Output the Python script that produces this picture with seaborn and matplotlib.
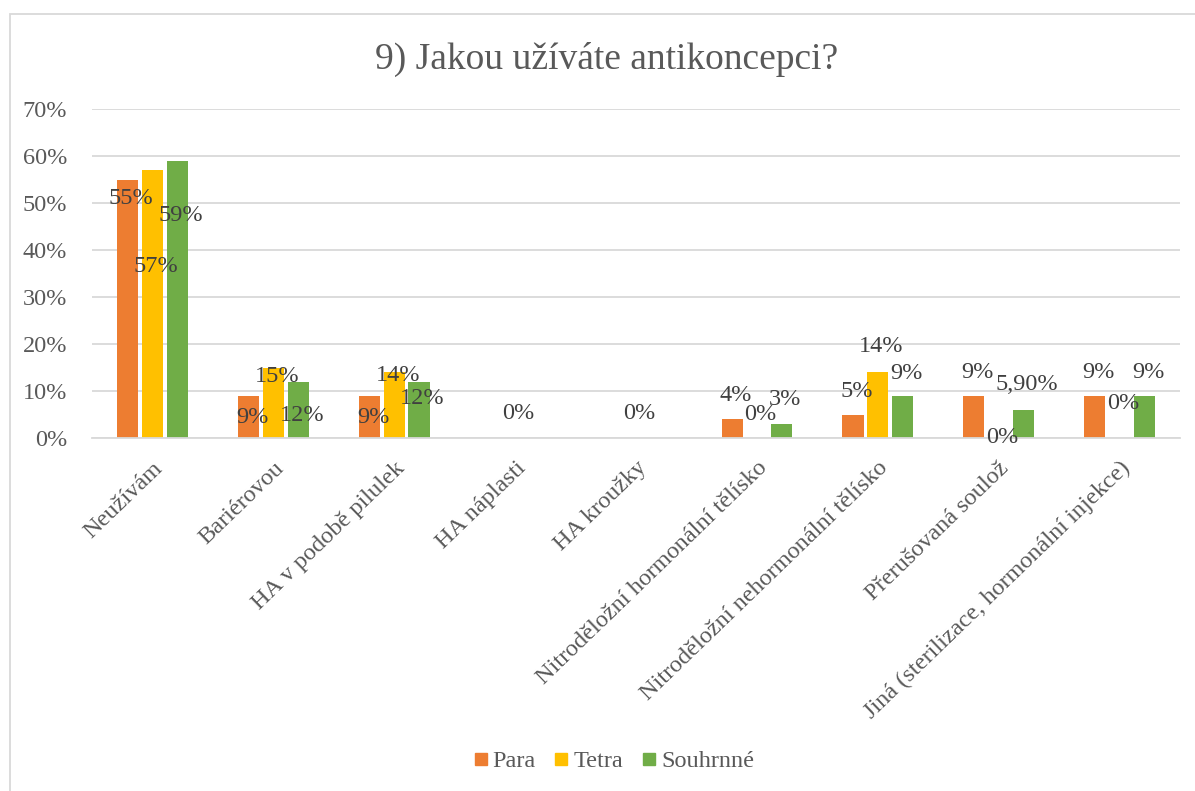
import numpy as np
import pandas as pd
import seaborn as sns
import matplotlib.pyplot as plt
from matplotlib.patches import Rectangle
from matplotlib.lines import Line2D
from matplotlib.ticker import MultipleLocator, FuncFormatter

# --- data -------------------------------------------------------------
categories = [
    "Neužívám",
    "Bariérovou",
    "HA v podobě pilulek",
    "HA náplasti",
    "HA kroužky",
    "Nitroděložní hormonální tělísko",
    "Nitroděložní nehormonální tělísko",
    "Přerušovaná soulož",
    "Jiná (sterilizace, hormonální injekce)",
]
series = ["Para", "Tetra", "Souhrnné"]
para = [55, 9, 9, None, None, 4, 5, 9, 9]
tetra = [57, 15, 14, 0, 0, 0, 14, 0, 0]
souhrnne = [59, 12, 12, None, None, 3, 9, 5.9, 9]

# vertical placement of each value label (in % units on the y scale)
label_y = {
    "Para":     [50.9, 4.3, 4.3, None, None, 9.1, 9.8, 14.0, 14.0],
    "Tetra":    [36.4, 13.0, 13.2, 5.3, 5.3, 5.1, 19.4, 0.2, 7.4],
    "Souhrnné": [47.4, 4.7, 8.5, None, None, 8.1, 13.8, 11.3, 14.0],
}

colors = {"Para": "#ED7D31", "Tetra": "#FFC000", "Souhrnné": "#70AD47"}

# --- long-form table ----------------------------------------------------
values = {"Para": para, "Tetra": tetra, "Souhrnné": souhrnne}
rows = []
for s in series:
    for c, v in zip(categories, values[s]):
        rows.append({"kategorie": c, "serie": s, "hodnota": np.nan if v is None else v})
df = pd.DataFrame(rows)

# --- style ------------------------------------------------------------
sns.set_theme(style="white")
plt.rcParams["font.family"] = ["Liberation Serif", "DejaVu Serif"]
TXT = "#595959"
LBL = "#404040"

fig = plt.figure(figsize=(11.95, 7.91), dpi=100)
ax = fig.add_axes([92 / 1195, 1 - 438 / 791, (1180 - 92) / 1195, (438 - 109) / 791])

group_width = 0.615
sns.barplot(
    data=df, x="kategorie", y="hodnota", hue="serie",
    order=categories, hue_order=series, palette=colors,
    width=group_width, gap=0.15, saturation=1, linewidth=0,
    errorbar=None, legend=False, ax=ax,
)

ax.set_ylim(0, 70)
ax.set_xlim(-0.5, len(categories) - 0.5)
ax.yaxis.set_major_locator(MultipleLocator(10))
ax.yaxis.set_major_formatter(FuncFormatter(lambda v, _: f"{v:.0f}%"))
ax.grid(axis="y", color="#D9D9D9", linewidth=1.3)
ax.set_axisbelow(True)
for side in ["top", "right", "left"]:
    ax.spines[side].set_visible(False)
ax.spines["bottom"].set_color("#D9D9D9")
ax.spines["bottom"].set_linewidth(1.3)
ax.tick_params(axis="both", length=0, colors=TXT, labelsize=17.5)
ax.tick_params(axis="y", pad=18)
ax.tick_params(axis="x", pad=14)
ax.set_xlabel("")
ax.set_ylabel("")
ax.set_xticks(range(len(categories)))
ax.set_xticklabels(categories, rotation=44, ha="right", rotation_mode="anchor",
                   fontsize=17.5, color=TXT)

# --- value labels -------------------------------------------------------
slot = group_width / len(series)
for j, s in enumerate(series):
    for i, v in enumerate(values[s]):
        if v is None:
            continue
        txt = f"{v:.0f}%" if float(v).is_integer() else f"{v:.2f}%".replace(".", ",")
        x = i + (j - 1) * slot + 0.03
        ax.text(x, label_y[s][i], txt, ha="center", va="center",
                fontsize=17.5, color=LBL)

# --- title, legend, frame ---------------------------------------------
fig.text(0.508, 1 - 59 / 791, "9) Jakou užíváte antikoncepci?", ha="center", va="center",
         fontsize=27, color=TXT)

handles = [Line2D([], [], marker="s", linestyle="none", markersize=8.5,
                  markerfacecolor=colors[s], markeredgecolor=colors[s]) for s in series]
fig.legend(handles, series, loc="center", bbox_to_anchor=(0.512, 1 - 761 / 791),
           ncol=3, frameon=False, fontsize=17.5, labelcolor=TXT,
           handletextpad=0.05, columnspacing=0.6, handlelength=0.9)

fig.patches.append(Rectangle((10 / 1195, -0.05), 1.1, 1 - 14 / 791 + 0.05,
                             transform=fig.transFigure, fill=False,
                             edgecolor="#D9D9D9", linewidth=1.3))

fig.savefig("out.png", dpi=100, facecolor="white")
